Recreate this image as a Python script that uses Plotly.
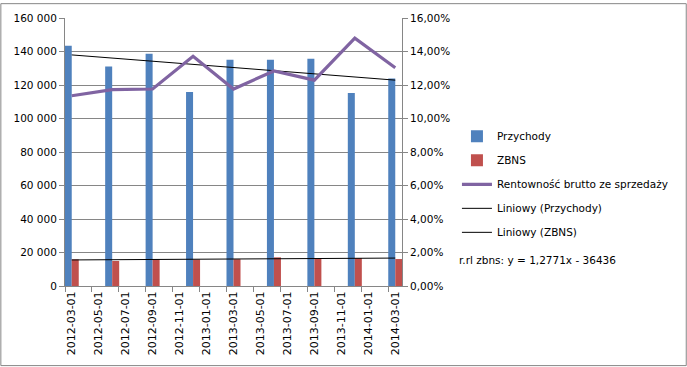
import numpy as np
import plotly.graph_objects as go

dates = ["2012-03-01", "2012-06-01", "2012-09-01", "2012-12-01", "2013-03-01",
         "2013-06-01", "2013-09-01", "2013-12-01", "2014-03-01"]
przychody = [143500, 131100, 138600, 115800, 135100, 135050, 135650, 115200, 123850]
zbns = [15900, 14950, 16000, 15800, 16000, 17100, 16500, 16700, 16100]
rentownosc = [0.1136, 0.1172, 0.1176, 0.1372, 0.1176, 0.1284, 0.1229, 0.1480, 0.1303]

x_tick_labels = ["2012-03-01", "2012-05-01", "2012-07-01", "2012-09-01", "2012-11-01",
                 "2013-01-01", "2013-03-01", "2013-05-01", "2013-07-01", "2013-09-01",
                 "2013-11-01", "2014-01-01", "2014-03-01"]
y_left_vals = [0, 20000, 40000, 60000, 80000, 100000, 120000, 140000, 160000]
y_left_text = ["0", "20 000", "40 000", "60 000", "80 000", "100 000", "120 000", "140 000", "160 000"]
y_right_vals = [0, 0.02, 0.04, 0.06, 0.08, 0.10, 0.12, 0.14, 0.16]
y_right_text = ["0,00%", "2,00%", "4,00%", "6,00%", "8,00%", "10,00%", "12,00%", "14,00%", "16,00%"]
equation_text = "r.rl zbns: y = 1,2771x - 36436"


def month_index(d):
    y, m, _ = d.split("-")
    return (int(y) - 2012) * 12 + int(m) - 3


x = np.array([month_index(d) for d in dates], dtype=float)
tick_x = [month_index(d) for d in x_tick_labels]

# linear trends
p1 = np.polyfit(x, przychody, 1)
p2 = np.polyfit(x, zbns, 1)
tx = np.array([x.min(), x.max()])

FONT = "DejaVu Sans"
W, H = 687, 367
L, R, T, B = 64.7, 285, 15, 81
pw, ph = W - L - R, H - T - B

BLUE = "#4F81BD"
RED = "#C0504D"
PURPLE = "#8064A2"
GRID = "#868686"

bw = 0.52
fig = go.Figure()
fig.add_trace(go.Bar(x=x, y=przychody, name="Przychody", marker_color=BLUE,
                     width=bw, offset=-bw, legendgroup="a", marker_line_width=0))
fig.add_trace(go.Bar(x=x, y=zbns, name="ZBNS", marker_color=RED,
                     width=bw, offset=0, legendgroup="b", marker_line_width=0))
fig.add_trace(go.Scatter(x=x, y=rentownosc, name="Rentowność brutto ze sprzedaży",
                         mode="lines", line=dict(color=PURPLE, width=3.2),
                         yaxis="y2", legendgroup="c"))
fig.add_trace(go.Scatter(x=tx, y=np.polyval(p1, tx), name="Liniowy (Przychody)",
                         mode="lines", line=dict(color="black", width=1), legendgroup="d"))
fig.add_trace(go.Scatter(x=tx, y=np.polyval(p2, tx), name="Liniowy (ZBNS)",
                         mode="lines", line=dict(color="black", width=1), legendgroup="e"))

fig.update_layout(
    width=W, height=H,
    margin=dict(l=L, r=R, t=T, b=B),
    paper_bgcolor="white", plot_bgcolor="white",
    font=dict(family=FONT, size=10, color="black"),
    barmode="overlay",
    showlegend=True,
    legend=dict(x=(457 - L) / pw, y=1 - (120 - T) / ph, xanchor="left", yanchor="top",
                font=dict(family=FONT, size=10.5, color="black"),
                tracegroupgap=5, bgcolor="rgba(0,0,0,0)", traceorder="grouped"),
    xaxis=dict(range=[-0.5, 24.5], tickmode="array", tickvals=tick_x, ticktext=x_tick_labels,
               tickangle=-90, ticks="", showgrid=False, showline=True, linecolor=GRID,
               linewidth=1, zeroline=False, tickfont=dict(family=FONT, size=11),
               minor=dict(tickmode="linear", tick0=-0.5, dtick=2, ticks="outside",
                          ticklen=5, tickcolor=GRID, showgrid=False)),
    yaxis=dict(range=[0, 160000], tickmode="array", tickvals=y_left_vals, ticktext=y_left_text,
               showgrid=True, gridcolor=GRID, gridwidth=1, showline=True, linecolor=GRID,
               ticks="outside", ticklen=5, tickcolor=GRID, zeroline=False,
               tickfont=dict(family=FONT, size=10.5)),
    yaxis2=dict(range=[0, 0.16], overlaying="y", side="right", tickmode="array",
                tickvals=y_right_vals, ticktext=y_right_text, showgrid=False,
                showline=True, linecolor=GRID, ticks="outside", ticklen=5, tickcolor=GRID,
                zeroline=False, tickfont=dict(family=FONT, size=10.5)),
    annotations=[dict(text=equation_text, xref="paper", yref="paper",
                      x=(457 - L) / pw, y=1 - (260 - T) / ph, xanchor="left", yanchor="middle",
                      showarrow=False, font=dict(family=FONT, size=10.5, color="black"))],
    shapes=[dict(type="rect", xref="paper", yref="paper",
                 x0=(0.5 - L) / pw, x1=(W - 0.5 - L) / pw,
                 y0=1 - (H - 0.5 - T) / ph, y1=1 - (0.5 - T) / ph,
                 line=dict(color=GRID, width=1), layer="below")],
)

fig.write_html("out.html", config={"displayModeBar": False},
               post_script="document.body.style.margin='0';document.body.style.padding='0';"
                           "document.body.style.overflow='hidden';")
